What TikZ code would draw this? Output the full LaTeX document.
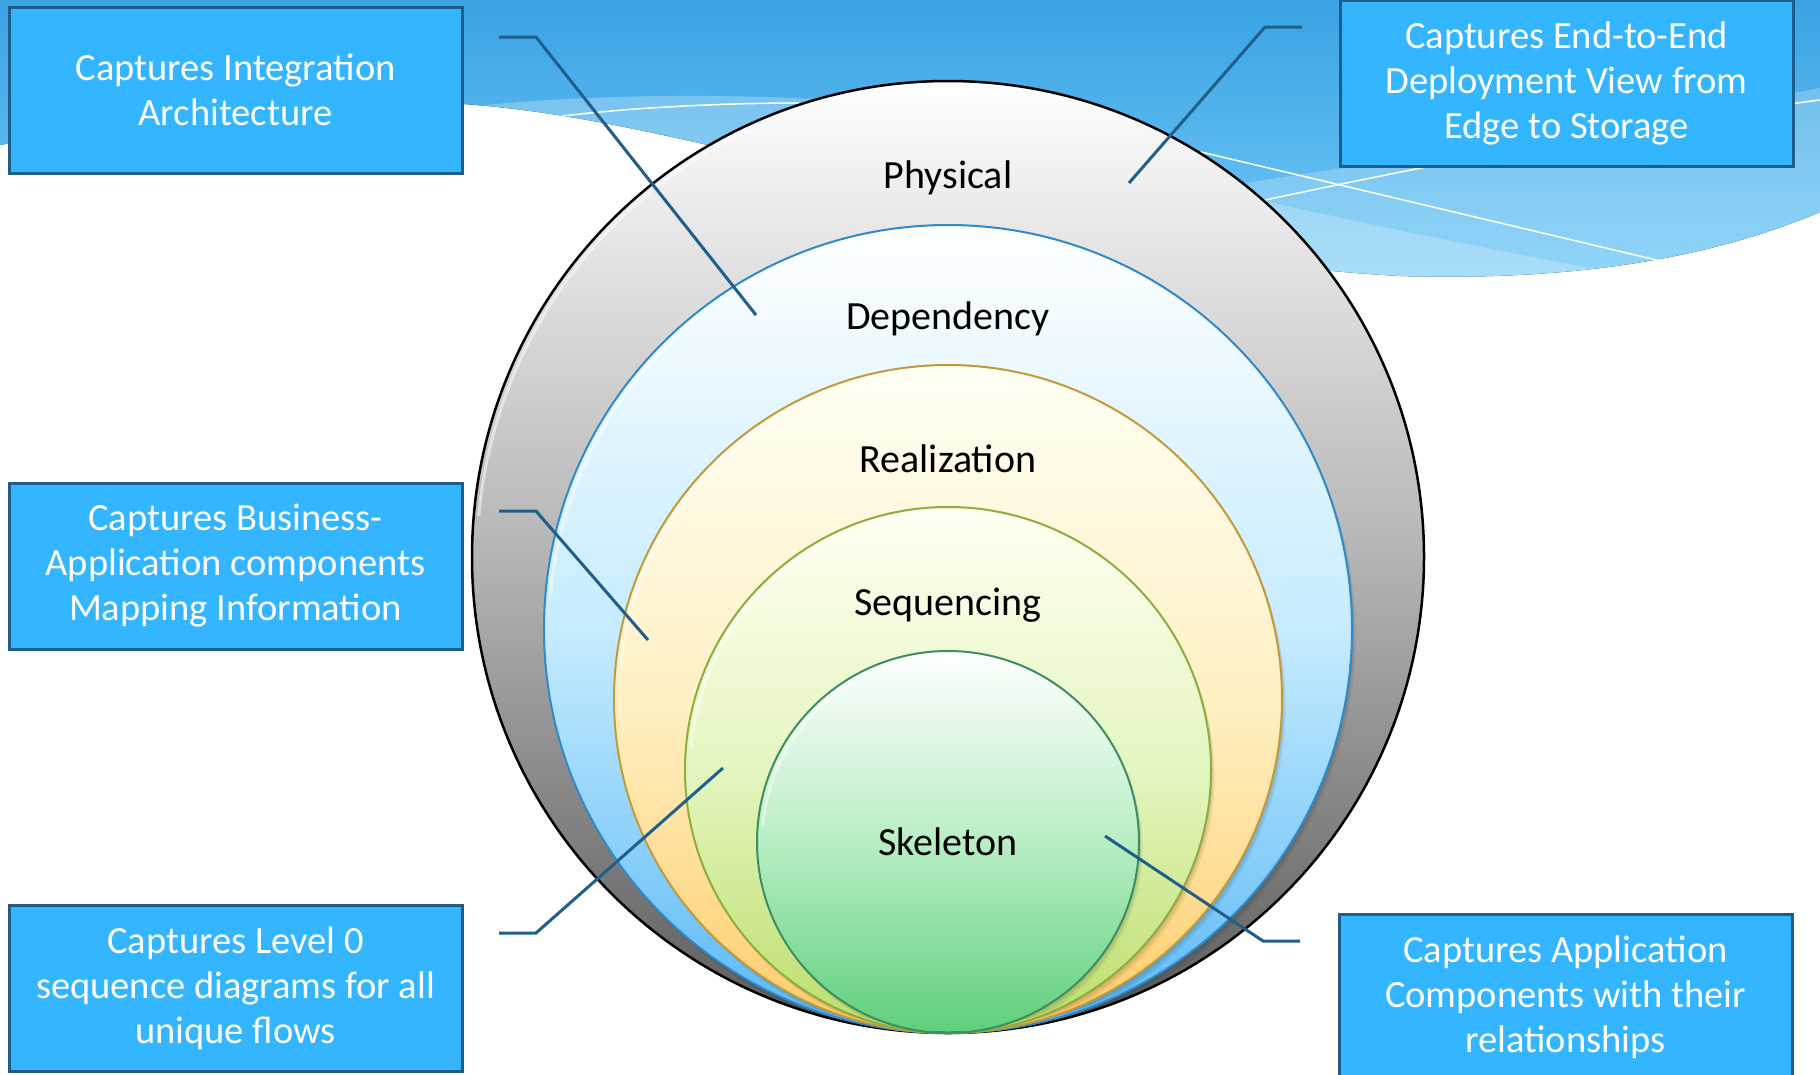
\documentclass[tikz,border=0pt]{standalone}
\usepackage{fontspec}
\setmainfont{Carlito}
\definecolor{boxfill}{HTML}{33B5FF}
\definecolor{boxedge}{HTML}{1F5C87}
\definecolor{conn}{HTML}{1F5F8A}
\definecolor{skytop}{HTML}{39A3E3}
\definecolor{skybot}{HTML}{74CAF8}
\definecolor{physmid}{HTML}{B4B4B4}
\definecolor{physbot}{HTML}{5A5A5A}
\definecolor{depmid}{HTML}{C6ECFF}
\definecolor{depbot}{HTML}{58B8F6}
\definecolor{depedge}{HTML}{2E8ACB}
\definecolor{realtop}{HTML}{FFFFF4}
\definecolor{realmid}{HTML}{FFF0C4}
\definecolor{realbot}{HTML}{FFCC6A}
\definecolor{realedge}{HTML}{C39A3A}
\definecolor{seqtop}{HTML}{FFFFF2}
\definecolor{seqmid}{HTML}{E4F6C0}
\definecolor{seqbot}{HTML}{BCDD6A}
\definecolor{seqedge}{HTML}{8DAE3E}
\definecolor{skelmid}{HTML}{B8EEC4}
\definecolor{skelbot}{HTML}{5ECF7C}
\definecolor{skeledge}{HTML}{3E8E62}
\begin{document}
\begin{tikzpicture}[x=1pt,y=-1pt,
  infobox/.style={rectangle, draw=boxedge, line width=3pt, fill=boxfill, text=white,
    minimum width=453pt, minimum height=166pt, align=center,
    font=\fontsize{38.5}{45}\selectfont, inner sep=0pt},
  ringlabel/.style={font=\fontsize{40}{48}\selectfont, text=black, inner sep=0pt},
  leader/.style={draw=conn, line width=3pt, line join=miter},
  wline/.style={draw=white, line width=1.5pt},
  shadowring/.style={fill=black, opacity=0.06},
  glint/.style={draw=white, line width=3pt, opacity=0.5},
]
\useasboundingbox (0,0) rectangle (1820,1074);
\fill[white] (0,0) rectangle (1820,1074);
% sky band
\fill[top color=skytop, bottom color=skybot]
  (0,0) -- (1820,0) -- (1820,212)
  .. controls (1730,250) and (1600,282) .. (1400,276)
  .. controls (1150,262) and (900,195) .. (708,145)
  .. controls (620,125) and (520,104) .. (420,102)
  .. controls (300,100) and (150,118) .. (0,145) -- cycle;
\begin{scope}
  \clip (0,0) -- (1820,0) -- (1820,212)
  .. controls (1730,250) and (1600,282) .. (1400,276)
  .. controls (1150,262) and (900,195) .. (708,145)
  .. controls (620,125) and (520,104) .. (420,102)
  .. controls (300,100) and (150,118) .. (0,145) -- cycle;
  \fill[white, opacity=0.22] (1100,205) .. controls (1400,160) and (1650,120) .. (1820,88) -- (1820,400) -- (1100,400) -- cycle;
  \fill[white, opacity=0.22] (1150,175) .. controls (1350,222) and (1550,262) .. (1720,292) -- (1720,400) -- (1150,400) -- cycle;
  \fill[white, opacity=0.25] (440,110) .. controls (550,96) and (700,92) .. (830,100) -- (830,300) -- (440,300) -- cycle;
\end{scope}
\draw[wline] (1201,152) -- (1669,263);
\draw[wline] (1265,200) .. controls (1500,150) and (1700,115) .. (1820,100);
\draw[wline] (548,118) .. controls (620,108) and (720,103) .. (800,103);
% rings
\path[top color=white, bottom color=physbot, middle color=physmid] (948,557) circle[radius=476pt];
\begin{scope}
  \clip (948,557) circle[radius=474pt];
  \foreach \d in {2,4,6} {\fill[shadowring] (948+\d*0.6,629+\d) circle[radius=404pt];}
\end{scope}
\path[top color=white, bottom color=depbot, middle color=depmid] (948,629) circle[radius=404pt];
\begin{scope}
  \clip (948,629) circle[radius=402pt];
  \foreach \d in {2,4,6} {\fill[shadowring] (948+\d*0.6,699+\d) circle[radius=334pt];}
\end{scope}
\path[top color=realtop, bottom color=realbot, middle color=realmid] (948,699) circle[radius=334pt];
\begin{scope}
  \clip (948,699) circle[radius=332pt];
  \foreach \d in {2,4,6} {\fill[shadowring] (948+\d*0.6,770+\d) circle[radius=263pt];}
\end{scope}
\path[top color=seqtop, bottom color=seqbot, middle color=seqmid] (948,770) circle[radius=263pt];
\begin{scope}
  \clip (948,770) circle[radius=261pt];
  \foreach \d in {2,4,6} {\fill[shadowring] (948+\d*0.6,842+\d) circle[radius=191pt];}
\end{scope}
\path[top color=white, bottom color=skelbot, middle color=skelmid] (948,842) circle[radius=191pt];
% glints (bevel highlight, upper left)
\draw[glint] (948,557) ++(115:471pt) arc[start angle=115, end angle=175, radius=471pt];
\draw[glint] (948,629) ++(115:399pt) arc[start angle=115, end angle=175, radius=399pt];
\draw[glint] (948,699) ++(115:329pt) arc[start angle=115, end angle=175, radius=329pt];
\draw[glint] (948,770) ++(115:258pt) arc[start angle=115, end angle=175, radius=258pt];
\draw[glint] (948,842) ++(115:186pt) arc[start angle=115, end angle=175, radius=186pt];
% outlines
\draw[black, line width=2.5pt] (948,557) circle[radius=476pt];
\draw[depedge, line width=2pt] (948,629) circle[radius=404pt];
\draw[realedge, line width=2pt] (948,699) circle[radius=334pt];
\draw[seqedge, line width=2pt] (948,770) circle[radius=263pt];
\draw[skeledge, line width=2pt] (948,842) circle[radius=191pt];
% ring labels
\node[ringlabel] (physical) at (948,178) {Physical};
\node[ringlabel] (dependency) at (948,319) {Dependency};
\node[ringlabel] (realization) at (948,459) {Realization};
\node[ringlabel] (sequencing) at (948,605) {Sequencing};
\node[ringlabel] (skeleton) at (948,842) {Skeleton};
% boxes
\node[infobox] (b1) at (235.5,90) {Captures Integration\\Architecture};
\node[infobox] (b2) at (1566.5,83) {Captures End-to-End\\Deployment View from\\Edge to Storage};
\node[infobox] (b3) at (235.5,566) {Captures Business-\\Application components\\Mapping Information};
\node[infobox] (b4) at (235.5,988) {Captures Level 0\\sequence diagrams for all\\unique flows};
\node[infobox] (b5) at (1565.5,997) {Captures Application\\Components with their\\relationships};
% leader lines
\coordinate (l1a) at (499,37); \coordinate (l1b) at (536,37); \coordinate (l1c) at (756,315);
\coordinate (l2a) at (1302,27); \coordinate (l2b) at (1265,27); \coordinate (l2c) at (1129,183);
\coordinate (l3a) at (499,511); \coordinate (l3b) at (536,511); \coordinate (l3c) at (648,640);
\coordinate (l4a) at (499,933); \coordinate (l4b) at (536,933); \coordinate (l4c) at (723,768);
\coordinate (l5a) at (1300,941); \coordinate (l5b) at (1263,941); \coordinate (l5c) at (1105,836);
\draw[leader] (l1a) -- (l1b) -- (l1c);
\draw[leader] (l2a) -- (l2b) -- (l2c);
\draw[leader] (l3a) -- (l3b) -- (l3c);
\draw[leader] (l4a) -- (l4b) -- (l4c);
\draw[leader] (l5a) -- (l5b) -- (l5c);
\end{tikzpicture}
\end{document}
